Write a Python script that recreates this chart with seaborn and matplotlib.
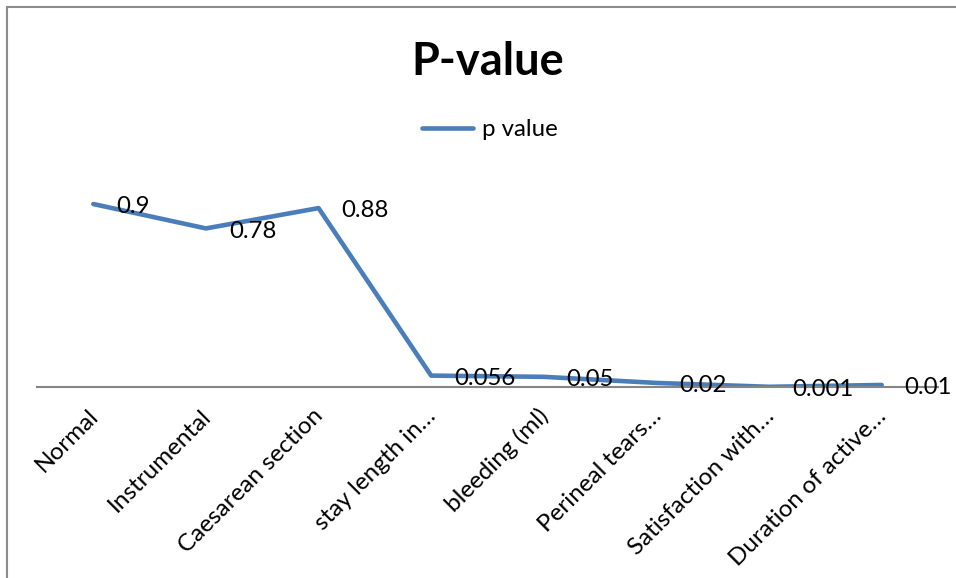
import numpy as np
import pandas as pd
import seaborn as sns
import matplotlib.pyplot as plt
from matplotlib.patches import Rectangle
from matplotlib.lines import Line2D
from matplotlib.transforms import ScaledTranslation

# ====================== данные ====================== #
categories = ['Normal', 'Instrumental', 'Caesarean section', 'stay length in…',
              'bleeding (ml)', 'Perineal tears…', 'Satisfaction with…',
              'Duration of active…']
p_values = [0.9, 0.78, 0.88, 0.056, 0.05, 0.02, 0.001, 0.01]
value_labels = ['0.9', '0.78', '0.88', '0.056', '0.05', '0.02', '0.001', '0.01']

sns.set_style('white')
plt.rcParams['font.family'] = ['Lato', 'DejaVu Sans']
plt.rcParams['text.color'] = 'black'
plt.rcParams['xtick.color'] = 'black'

df = pd.DataFrame({'cat': categories, 'p': p_values})

fig = plt.figure(figsize=(9.56, 5.78), dpi=100)
ax = fig.add_axes([37 / 956, 1 - 387 / 578, (938 - 37) / 956, 203.3 / 578])

line_color = '#4A7EBB'
sns.lineplot(data=df, x='cat', y='p', ax=ax, color=line_color, linewidth=3.3,
             sort=False, legend=False)

ax.set_xlim(-0.5, len(categories) - 0.5)
ax.set_ylim(0, 1)
ax.set_xlabel('')
ax.set_ylabel('')
ax.set_yticks([])
for s in ['top', 'left', 'right']:
    ax.spines[s].set_visible(False)
ax.spines['bottom'].set_color('#868686')
ax.spines['bottom'].set_linewidth(1.5)
ax.tick_params(axis='x', length=0, pad=18.5)

ax.set_xticks(range(len(categories)))
ax.set_xticklabels(categories, rotation=45, ha='right', va='center',
                   rotation_mode='anchor', fontsize=17.5)
shift = ScaledTranslation(1.5 / 100, 0, fig.dpi_scale_trans)
for lbl in ax.get_xticklabels():
    lbl.set_transform(lbl.get_transform() + shift)

# подписи значений справа от точек
for i, (v, t) in enumerate(zip(p_values, value_labels)):
    ax.annotate(t, (i, v), xytext=(16.5, -2), textcoords='offset points',
                ha='left', va='center', fontsize=17.3, annotation_clip=False)

fig.text(488 / 956, 1 - 62 / 578, 'P-value', ha='center', va='center',
         fontsize=32.5, fontweight='bold')

handle = Line2D([], [], color=line_color, linewidth=3.3)
fig.legend([handle], ['p value'], loc='center', bbox_to_anchor=(490 / 956, 1 - 130 / 578),
           frameon=False, fontsize=17.3, handlelength=2.1, handletextpad=0.4)

# рамка диаграммы
fig.patches.append(Rectangle((7 / 956, -0.1), 1.2, 1 - 7 / 578 + 0.1,
                             transform=fig.transFigure, fill=False,
                             edgecolor='#8C8C8C', linewidth=1.5))

fig.savefig('out.png', dpi=100)
